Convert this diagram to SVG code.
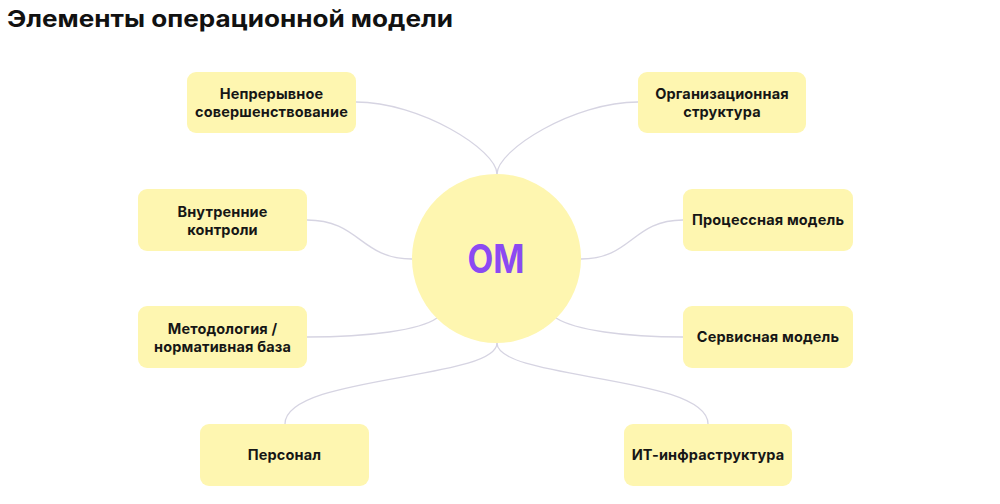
<svg xmlns="http://www.w3.org/2000/svg" width="1000" height="504" viewBox="0 0 1000 504">
<style>
.box{fill:#FEF6B0}
.lbl{font-family:Inter,"Noto Sans","Liberation Sans",sans-serif;font-weight:700;font-size:14.5px;letter-spacing:0.15px;fill:#161616;text-anchor:middle}
.title{font-family:Inter,"Noto Sans","Liberation Sans",sans-serif;font-weight:700;font-size:23px;fill:#111}
.om{font-family:Inter,"Noto Sans","Liberation Sans",sans-serif;font-weight:700;font-size:39px;fill:#8B4AF2;text-anchor:middle}
.conn path{fill:none;stroke:#D6D4E2;stroke-width:1.3}
</style>
<rect width="1000" height="504" fill="#fff"/>
<text class="title" x="7" y="27" textLength="446" lengthAdjust="spacingAndGlyphs">Элементы операционной модели</text>
<g id="connectors" class="conn">
<path d="M356,102 C420,102 497,150 497,174"/>
<path d="M638,102 C574,102 497,150 497,174"/>
<path d="M307,220 C360,220 360,259 412,259"/>
<path d="M683,220 C632,220 632,259 581,259"/>
<path d="M307,337 C370,337 420,330 437,318"/>
<path d="M683,337 C624,337 575,330 556,318"/>
<path d="M497,343 C497,380 285,375 285,424"/>
<path d="M497,343 C497,380 708,375 708,424"/>
</g>
<g id="om">
<circle class="box" cx="496.5" cy="258.5" r="84.5"/>
<text class="om" x="496" y="273" textLength="57" lengthAdjust="spacingAndGlyphs">ОМ</text>
</g>
<g id="n1"><rect class="box" x="187" y="72" width="169" height="61" rx="9"/><text class="lbl" x="271.5" y="99">Непрерывное</text><text class="lbl" x="271.5" y="117">совершенствование</text></g>
<g id="n2"><rect class="box" x="638" y="72" width="168" height="61" rx="9"/><text class="lbl" x="722" y="99">Организационная</text><text class="lbl" x="722" y="117">структура</text></g>
<g id="n3"><rect class="box" x="138" y="189" width="169" height="62" rx="9"/><text class="lbl" x="222.5" y="216.5">Внутренние</text><text class="lbl" x="222.5" y="234.5">контроли</text></g>
<g id="n4"><rect class="box" x="138" y="306" width="169" height="62" rx="9"/><text class="lbl" x="222.5" y="333.5">Методология /</text><text class="lbl" x="222.5" y="351.5">нормативная база</text></g>
<g id="n5"><rect class="box" x="683" y="189" width="170" height="62" rx="9"/><text class="lbl" x="768" y="225">Процессная модель</text></g>
<g id="n6"><rect class="box" x="683" y="306" width="170" height="62" rx="9"/><text class="lbl" x="768" y="342">Сервисная модель</text></g>
<g id="n7"><rect class="box" x="200" y="424" width="169" height="62" rx="9"/><text class="lbl" x="284.5" y="460">Персонал</text></g>
<g id="n8"><rect class="box" x="624" y="424" width="168" height="62" rx="9"/><text class="lbl" x="708" y="460">ИТ-инфраструктура</text></g>
</svg>
